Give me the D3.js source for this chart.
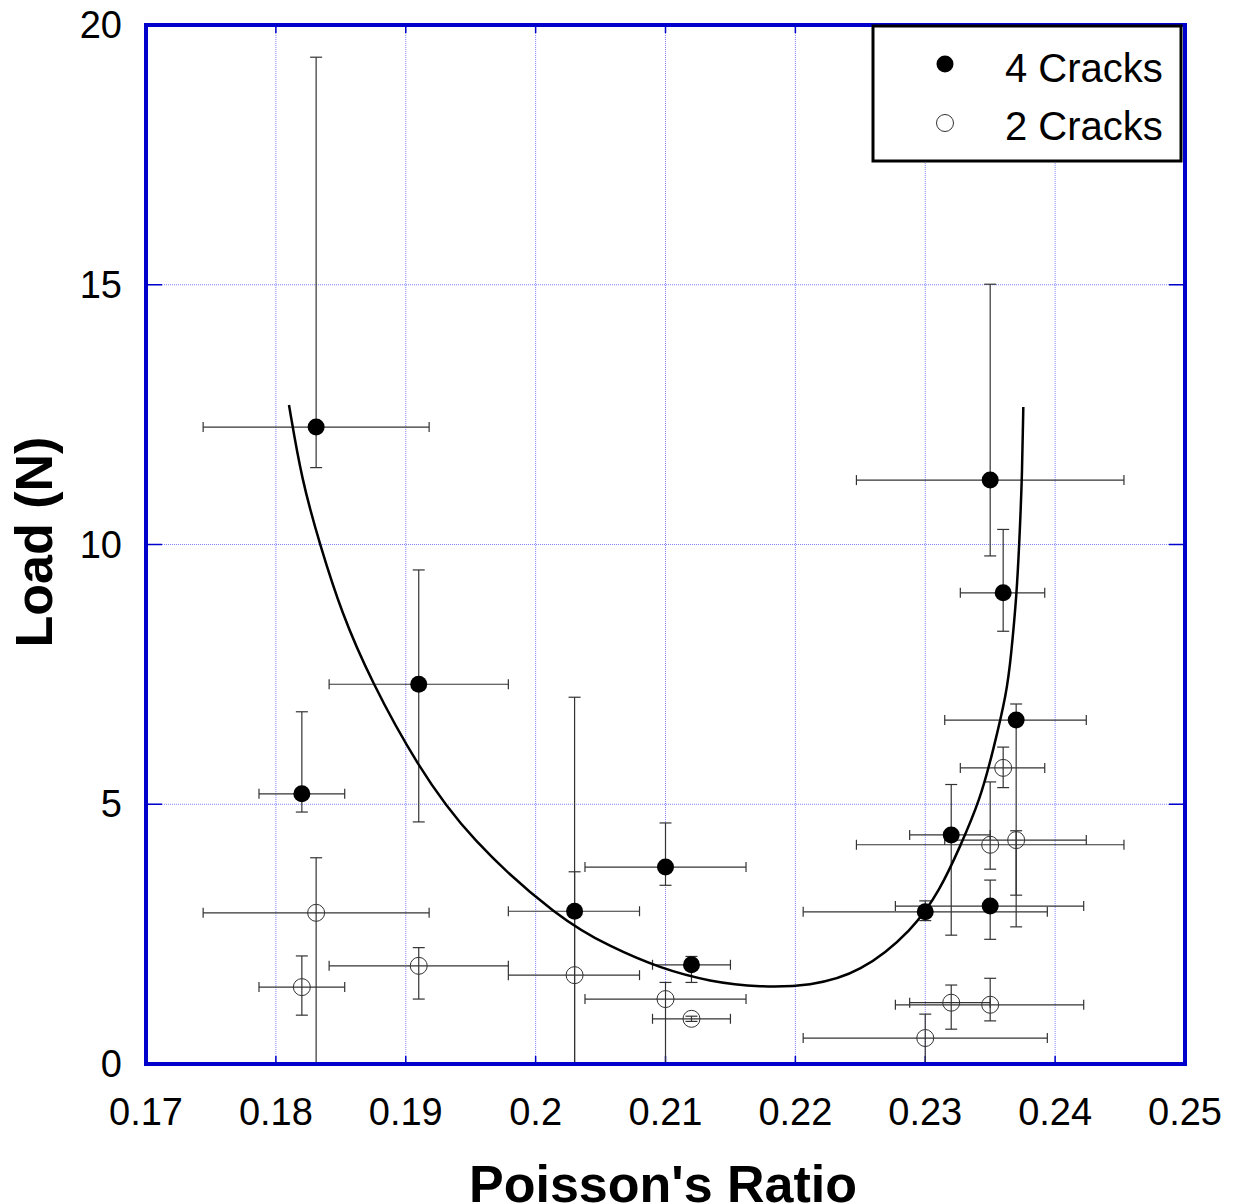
<!DOCTYPE html>
<html>
<head>
<meta charset="utf-8">
<script src="https://cdn.jsdelivr.net/npm/d3@7"></script>
<style>
  body { margin: 0; background: #fff; }
  text { font-family: "Liberation Sans", Arial, sans-serif; }
</style>
</head>
<body>
<div id="chart"></div>
<script>
// 4 cracks (filled): x, y, x error low/high, y error low/high
var fourX    = [0.1831, 0.182, 0.191, 0.203, 0.210, 0.212, 0.235, 0.236, 0.237, 0.232, 0.230, 0.235];
var fourY    = [12.26, 5.20, 7.31, 2.94, 3.79, 1.91, 11.24, 9.07, 6.62, 4.41, 2.93, 3.04];
var fourXlo  = [0.1744, 0.1787, 0.1841, 0.1979, 0.2038, 0.2090, 0.2247, 0.2327, 0.2315, 0.2288, 0.2206, 0.2277];
var fourXhi  = [0.1918, 0.1853, 0.1979, 0.2080, 0.2162, 0.2150, 0.2453, 0.2392, 0.2424, 0.2350, 0.2394, 0.2422];
var fourYlo  = [11.48, 4.85, 4.66, 0, 3.44, 1.57, 9.78, 8.33, 3.25, 2.48, 2.76, 2.40];
var fourYhi  = [19.38, 6.78, 9.51, 7.06, 4.64, 2.07, 15.01, 10.29, 6.93, 5.38, 3.14, 3.54];

// 2 cracks (open)
var twoX    = [0.1831, 0.182, 0.191, 0.203, 0.210, 0.212, 0.230, 0.232, 0.235, 0.236, 0.237, 0.235];
var twoY    = [2.91, 1.48, 1.89, 1.71, 1.25, 0.87, 0.50, 1.18, 1.14, 5.70, 4.31, 4.22];
var twoXlo  = [0.1744, 0.1787, 0.1841, 0.1979, 0.2038, 0.2090, 0.2206, 0.2288, 0.2277, 0.2327, 0.2315, 0.2247];
var twoXhi  = [0.1918, 0.1853, 0.1979, 0.2080, 0.2162, 0.2150, 0.2394, 0.2350, 0.2422, 0.2392, 0.2424, 0.2453];
var twoYlo  = [0, 0.94, 1.25, 0, 0, 0.82, 0, 0.67, 0.83, 5.32, 2.64, 3.75];
var twoYhi  = [3.97, 2.08, 2.24, 3.70, 1.57, 0.92, 0.96, 1.52, 1.65, 6.10, 4.49, 5.43];

// fitted curve
var fitX = [0.18101, 0.18199, 0.18340, 0.18507, 0.18730, 0.19084, 0.19495, 0.20188, 0.20573, 0.20958,
            0.21343, 0.21728, 0.22113, 0.22498, 0.22906, 0.23114, 0.23268, 0.23422, 0.23524, 0.23627, 0.23660,
            0.23705, 0.23724, 0.23745, 0.23755];
var fitY = [12.685, 11.24, 9.99, 8.676, 7.392, 5.755, 4.312, 2.785, 2.258, 1.842,
            1.584, 1.476, 1.50, 1.746, 2.579, 3.349, 4.183, 5.082, 6.044, 7.141, 7.834,
            9.066, 10.03, 11.24, 12.647];

var xTicks = [0.17, 0.18, 0.19, 0.2, 0.21, 0.22, 0.23, 0.24, 0.25];
var yTicks = [0, 5, 10, 15, 20];
var seriesNames = ["4 Cracks", "2 Cracks"];

function main(){
    var W = 1235, H = 1204;
    var left = 146, top = 25, right = 1185, bottom = 1064;

    var svg = d3.select("#chart").append("svg")
        .attr("width", W)
        .attr("height", H);

    var x = d3.scaleLinear().domain([0.17, 0.25]).range([left, right]);
    var y = d3.scaleLinear().domain([0, 20]).range([bottom, top]);

    // grid
    svg.append("g").selectAll("line.gx")
        .data(xTicks.slice(1, -1))
        .enter().append("line")
        .attr("x1", d => x(d)).attr("x2", d => x(d))
        .attr("y1", top).attr("y2", bottom)
        .attr("stroke", "#8080ff").attr("stroke-width", 1)
        .attr("stroke-dasharray", "1,1");
    svg.append("g").selectAll("line.gy")
        .data(yTicks.slice(1, -1))
        .enter().append("line")
        .attr("x1", left).attr("x2", right)
        .attr("y1", d => y(d)).attr("y2", d => y(d))
        .attr("stroke", "#8080ff").attr("stroke-width", 1)
        .attr("stroke-dasharray", "1,1");

    // inner ticks
    var tk = svg.append("g").attr("stroke", "#0000cc").attr("stroke-width", 1.5);
    xTicks.slice(1, -1).forEach(function(d){
        tk.append("line").attr("x1", x(d)).attr("x2", x(d)).attr("y1", bottom).attr("y2", bottom - 8);
        tk.append("line").attr("x1", x(d)).attr("x2", x(d)).attr("y1", top).attr("y2", top + 8);
    });
    yTicks.slice(1, -1).forEach(function(d){
        tk.append("line").attr("x1", left).attr("x2", left + 16).attr("y1", y(d)).attr("y2", y(d));
        tk.append("line").attr("x1", right).attr("x2", right - 16).attr("y1", y(d)).attr("y2", y(d));
    });

    // error bars
    function errorBars(xs, ys, xlo, xhi, ylo, yhi){
        var g = svg.append("g").attr("stroke", "#333").attr("stroke-width", 1.2).attr("fill", "none");
        xs.forEach(function(v, i){
            var cx = x(v), cy = y(ys[i]);
            var x0 = x(xlo[i]), x1 = x(xhi[i]);
            g.append("line").attr("x1", x0).attr("x2", x1).attr("y1", cy).attr("y2", cy);
            g.append("line").attr("x1", x0).attr("x2", x0).attr("y1", cy - 5).attr("y2", cy + 5);
            g.append("line").attr("x1", x1).attr("x2", x1).attr("y1", cy - 5).attr("y2", cy + 5);
            var y0 = y(ylo[i]), y1 = y(yhi[i]);
            g.append("line").attr("x1", cx).attr("x2", cx).attr("y1", y0).attr("y2", y1);
            g.append("line").attr("x1", cx - 6).attr("x2", cx + 6).attr("y1", y1).attr("y2", y1);
            if (ylo[i] > 0)
                g.append("line").attr("x1", cx - 6).attr("x2", cx + 6).attr("y1", y0).attr("y2", y0);
        });
    }
    errorBars(twoX, twoY, twoXlo, twoXhi, twoYlo, twoYhi);
    errorBars(fourX, fourY, fourXlo, fourXhi, fourYlo, fourYhi);

    // fitted curve
    var pts = fitX.map((v, i) => [v, fitY[i]]);
    svg.append("path")
        .datum(pts)
        .attr("d", d3.line().x(d => x(d[0])).y(d => y(d[1])).curve(d3.curveBasis))
        .attr("fill", "none").attr("stroke", "#000").attr("stroke-width", 2.5);

    // markers
    svg.append("g").selectAll("circle.open")
        .data(twoX.map((v, i) => [v, twoY[i]]))
        .enter().append("circle")
        .attr("cx", d => x(d[0])).attr("cy", d => y(d[1])).attr("r", 8.5)
        .attr("fill", "none").attr("stroke", "#333").attr("stroke-width", 1);
    svg.append("g").selectAll("circle.fill")
        .data(fourX.map((v, i) => [v, fourY[i]]))
        .enter().append("circle")
        .attr("cx", d => x(d[0])).attr("cy", d => y(d[1])).attr("r", 8.5)
        .attr("fill", "#000");

    // frame
    svg.append("rect")
        .attr("x", left).attr("y", top)
        .attr("width", right - left).attr("height", bottom - top)
        .attr("fill", "none").attr("stroke", "#0000cc").attr("stroke-width", 4);

    // tick labels
    svg.append("g").selectAll("text")
        .data(xTicks)
        .enter().append("text")
        .attr("x", d => x(d)).attr("y", 1125)
        .attr("text-anchor", "middle")
        .attr("font-size", "38px")
        .text(d => d);
    svg.append("g").selectAll("text")
        .data(yTicks)
        .enter().append("text")
        .attr("x", 122).attr("y", d => y(d) + 13)
        .attr("text-anchor", "end")
        .attr("font-size", "38px")
        .text(d => d);

    // axis titles
    svg.append("text")
        .attr("x", 663).attr("y", 1202)
        .attr("text-anchor", "middle")
        .attr("font-size", "52px").attr("font-weight", "bold")
        .text("Poisson's Ratio");
    svg.append("text")
        .attr("transform", "translate(52, 542) rotate(-90)")
        .attr("text-anchor", "middle")
        .attr("font-size", "52px").attr("font-weight", "bold")
        .text("Load (N)");

    // legend
    var lg = svg.append("g");
    lg.append("rect")
        .attr("x", 873).attr("y", 26).attr("width", 308).attr("height", 135)
        .attr("fill", "#fff").attr("stroke", "#000").attr("stroke-width", 3);
    lg.append("circle").attr("cx", 945).attr("cy", 64).attr("r", 8.5).attr("fill", "#000");
    lg.append("circle").attr("cx", 945).attr("cy", 123).attr("r", 8.5)
        .attr("fill", "none").attr("stroke", "#333").attr("stroke-width", 1);
    lg.selectAll("text.l")
        .data(seriesNames)
        .enter().append("text")
        .attr("x", 1005).attr("y", (d, i) => 82 + i * 58)
        .attr("font-size", "40px")
        .text(d => d);
}
main();
</script>
</body>
</html>
